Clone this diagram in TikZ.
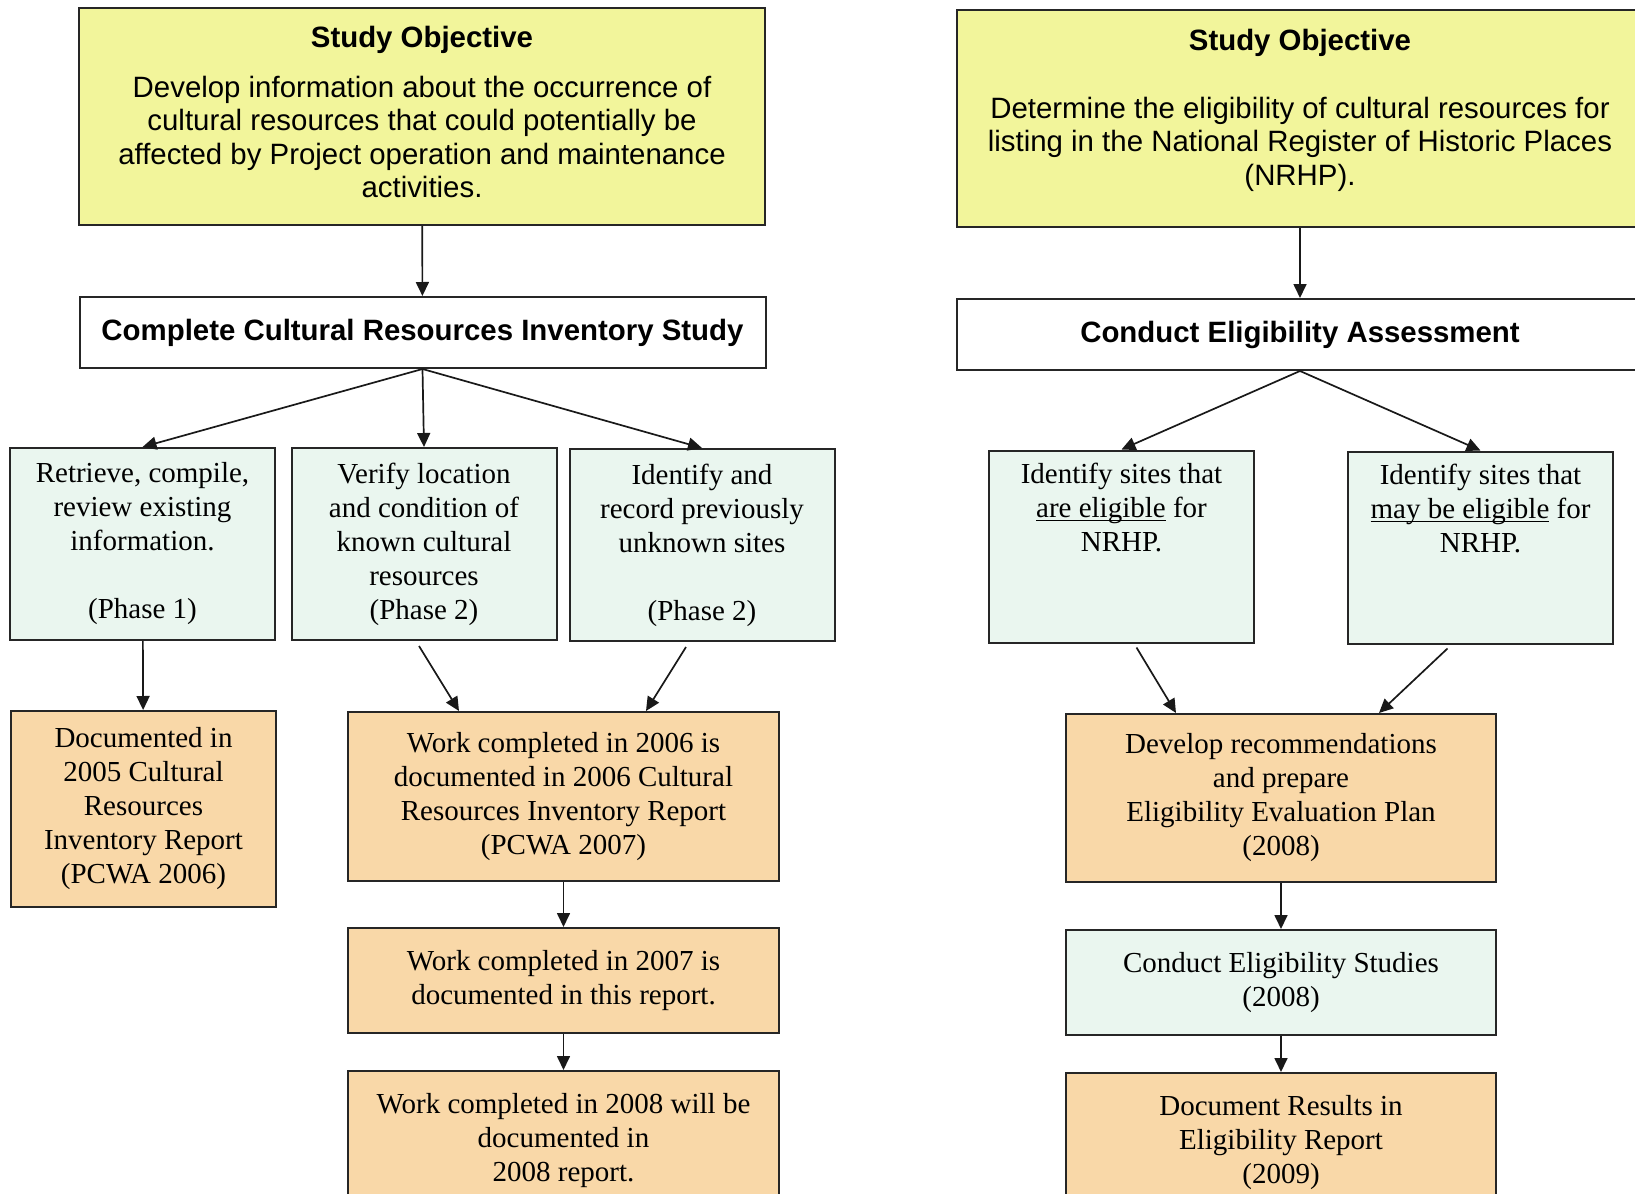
\documentclass[tikz,border=0pt]{standalone}
\usepackage{fontspec}
\setmainfont{Liberation Serif}
\newfontfamily\arialfont{Liberation Sans}
\usetikzlibrary{arrows.meta,calc}

\definecolor{objyellow}{RGB}{242,245,155}
\definecolor{stepgreen}{RGB}{234,246,239}
\definecolor{reporttan}{RGB}{249,216,168}

\newcommand\ulword[1]{\leavevmode\setbox0=\hbox{#1}\rlap{\rule[-1.8pt]{\wd0}{0.6pt}}\box0\relax}

\tikzset{
  box/.style={draw=black!85, line width=1pt, inner sep=0pt, align=center,
    font=\fontsize{14.5}{17}\selectfont},
  objbox/.style={box, fill=objyellow, minimum width=343pt, minimum height=108.5pt},
  taskbox/.style={box, fill=white, minimum width=343pt, minimum height=35.5pt,
    font=\arialfont\bfseries\fontsize{14.7}{17}\selectfont},
  stepbox/.style={box, fill=stepgreen, minimum width=132.5pt, minimum height=96pt},
  reportbox/.style={box, fill=reporttan},
  objtitle/.style={font=\arialfont\bfseries\fontsize{14.7}{17}\selectfont, inner sep=0pt},
  objtext/.style={font=\arialfont\fontsize{14.7}{16.8}\selectfont, align=center, inner sep=0pt},
  arr/.style={-{Triangle[length=7pt,width=6.5pt]}, line width=0.85pt, draw=black!90}
}

\begin{document}
\begin{tikzpicture}[x=0.5pt,y=-0.5pt]
  \useasboundingbox (0,0) rectangle (1635,1194);

  % Left column: inventory study
  \node[objbox] (objL) at (422,116.5) {};
  \node[objtitle] (objLtitle) at (422,40) {Study Objective};
  \node[objtext] (objLtext) at (422,137) {Develop information about the occurrence of\\
    cultural resources that could potentially be\\
    affected by Project operation and maintenance\\
    activities.};
  \node[taskbox] (inv) at (422.5,332.5) {Complete Cultural Resources Inventory Study};

  \node[stepbox] (retrieve) at (142.5,544) {Retrieve, compile,\\review existing\\information.\\\strut\\(Phase 1)};
  \node[stepbox] (verify) at (424,544) {Verify location\\and condition of\\known cultural\\resources\\(Phase 2)};
  \node[stepbox] (identify) at (702,545) {Identify and\\record previously\\unknown sites\\\strut\\(Phase 2)};

  \node[reportbox, minimum width=132.5pt, minimum height=98pt] (rep05) at (143.5,809)
    {Documented in\\2005 Cultural\\Resources\\Inventory Report\\(PCWA 2006)};
  \node[reportbox, minimum width=215.5pt, minimum height=84.5pt] (rep06) at (563.5,796.5)
    {Work completed in 2006 is\\documented in 2006 Cultural\\Resources Inventory Report\\(PCWA 2007)};
  \node[reportbox, minimum width=215.5pt, minimum height=52.5pt] (rep07) at (563.5,980.5)
    {Work completed in 2007 is\\documented in this report.};
  \node[reportbox, minimum width=215.5pt, minimum height=70pt] (rep08) at (563.5,1141)
    {Work completed in 2008 will be\\documented in\\2008 report.};

  % Right column: eligibility
  \node[objbox] (objR) at (1300,118.5) {};
  \node[objtitle] (objRtitle) at (1300,43) {Study Objective};
  \node[objtext] (objRtext) at (1300,144) {Determine the eligibility of cultural resources for\\
    listing in the National Register of Historic Places\\
    (NRHP).};
  \node[taskbox] (elig) at (1300,334.5) {Conduct Eligibility Assessment};

  \node[stepbox] (eligible) at (1121.5,546.5) {Identify sites that\\\ulword{are eligible} for\\NRHP.\\\strut\\\strut};
  \node[stepbox] (maybe) at (1480.5,547.5) {Identify sites that\\\ulword{may be eligible} for\\NRHP.\\\strut\\\strut};

  \node[reportbox, minimum width=215pt, minimum height=84pt] (plan) at (1281,798)
    {Develop recommendations\\and prepare\\Eligibility Evaluation Plan\\(2008)};
  \node[stepbox, minimum width=215pt, minimum height=52.5pt] (studies) at (1281,982.5)
    {Conduct Eligibility Studies\\(2008)};
  \node[reportbox, minimum width=215pt, minimum height=70pt] (rep09) at (1281,1143)
    {Document Results in\\Eligibility Report\\(2009)};

  % Connectors
  \draw[arr] (objL) -- (inv);
  \draw[arr] (inv.south) -- (retrieve.north);
  \draw[arr] (inv.south) -- (verify.north);
  \draw[arr] (inv.south) -- (identify.north);
  \draw[arr] (retrieve) -- (rep05);
  \draw[arr] ($(verify.south)+(-5,5)$) -- ($(rep06.north west)+(112,0)$);
  \draw[arr] ($(identify.south)+(-16,5)$) -- ($(rep06.north west)+(299,0)$);
  \draw[arr] (rep06) -- (rep07);
  \draw[arr] (rep07) -- (rep08);

  \draw[arr] (objR) -- (elig);
  \draw[arr] (elig.south) -- (eligible.north);
  \draw[arr] (elig.south) -- (maybe.north);
  \draw[arr] ($(eligible.south)+(15,4)$) -- ($(plan.north west)+(111,0)$);
  \draw[arr] ($(maybe.south)+(-33,4)$) -- ($(plan.north west)+(314,0)$);
  \draw[arr] (plan) -- (studies);
  \draw[arr] (studies) -- (rep09);
\end{tikzpicture}
\end{document}
